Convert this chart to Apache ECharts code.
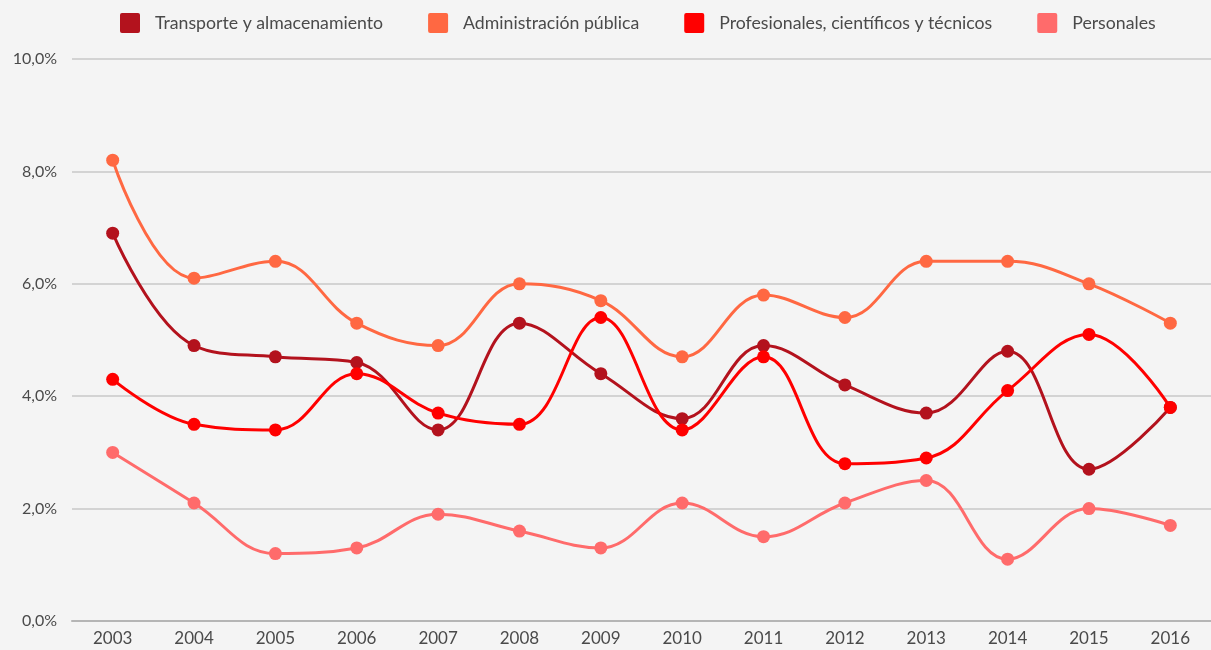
<!DOCTYPE html>
<html><head><meta charset="utf-8">
<script src="https://cdn.jsdelivr.net/npm/echarts@6/dist/echarts.min.js"></script>
<style>html,body{margin:0;padding:0;background:#f4f4f4;}#c{width:1211px;height:650px;}</style>
</head><body><div id="c"></div>
<script>
const years = ['2003','2004','2005','2006','2007','2008','2009','2010','2011','2012','2013','2014','2015','2016'];
const transporte = [6.9,4.9,4.7,4.6,3.4,5.3,4.4,3.6,4.9,4.2,3.7,4.8,2.7,3.8];
const administracion = [8.2,6.1,6.4,5.3,4.9,6.0,5.7,4.7,5.8,5.4,6.4,6.4,6.0,5.3];
const profesionales = [4.3,3.5,3.4,4.4,3.7,3.5,5.4,3.4,4.7,2.8,2.9,4.1,5.1,3.8];
const personales = [3.0,2.1,1.2,1.3,1.9,1.6,1.3,2.1,1.5,2.1,2.5,1.1,2.0,1.7];
const names = ['Transporte y almacenamiento','Administración pública','Profesionales, científicos y técnicos','Personales'];
const colors = ['#b3121d','#ff6842','#ff0000','#ff6b6b'];
const dataSets = [transporte, administracion, profesionales, personales];

const chart = echarts.init(document.getElementById('c'));
chart.setOption({
  backgroundColor: '#f4f4f4',
  animation: false,
  color: colors,
  legend: {
    top: 8, left: 115,
    itemWidth: 20, itemHeight: 20, itemGap: 45,
    icon: 'path://M2,0H18Q20,0 20,2V18Q20,20 18,20H2Q0,20 0,18V2Q0,0 2,0Z',
    textStyle: {fontFamily: 'Lato', fontSize: 17.7, color: '#4a4a4a', padding: [0,0,0,10]},
    data: names
  },
  grid: {left: 72, top: 59, width: 1147, height: 562, containLabel: false},
  xAxis: {
    type: 'category', data: years, boundaryGap: true,
    axisLine: {lineStyle: {color: '#b5b5b5', width: 2}},
    axisTick: {show: false},
    axisLabel: {fontFamily: 'Lato', fontSize: 17, color: '#4a4a4a', margin: 9}
  },
  yAxis: {
    type: 'value', min: 0, max: 10, interval: 2,
    axisLine: {show: false}, axisTick: {show: false},
    splitLine: {lineStyle: {color: '#d3d3d3', width: 2}},
    axisLabel: {fontFamily: 'Lato', fontSize: 16, color: '#4a4a4a', margin: 15,
      formatter: v => v.toFixed(1).replace('.', ',') + '%'}
  },
  series: dataSets.map((d, i) => ({
    name: names[i], type: 'line', data: d, smooth: 0.4,
    symbol: 'circle', symbolSize: 13,
    lineStyle: {width: 3, color: colors[i]},
    itemStyle: {color: colors[i]}
  }))
});
</script></body></html>
